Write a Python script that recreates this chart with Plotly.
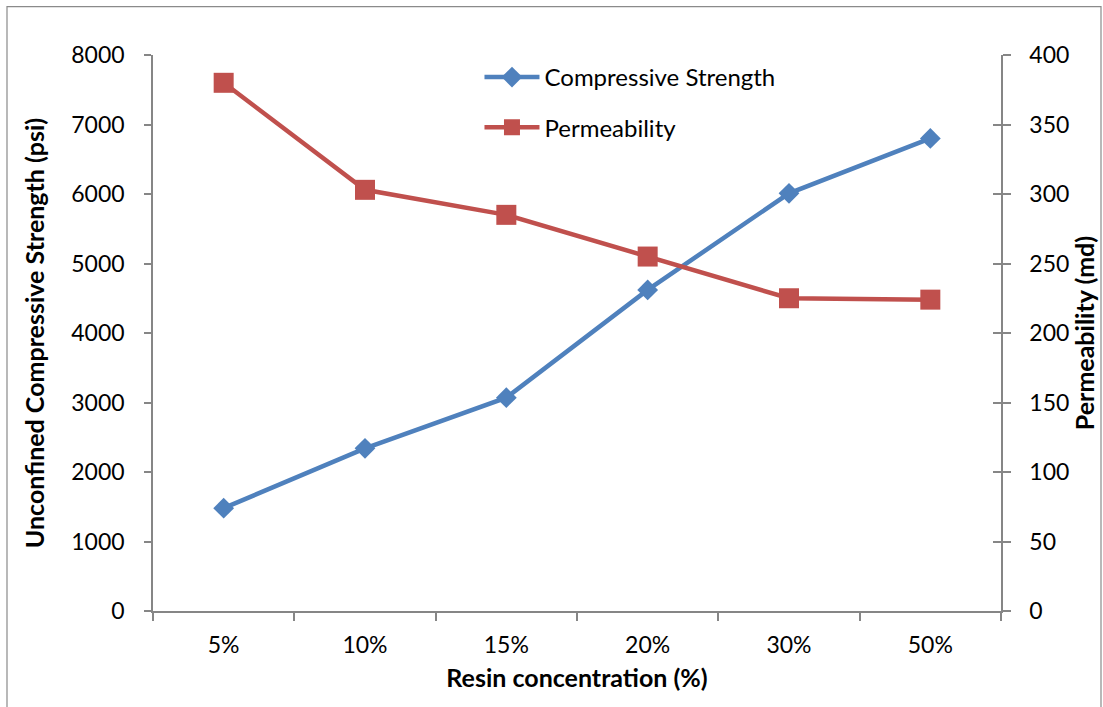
import plotly.graph_objects as go

categories = ["5%", "10%", "15%", "20%", "30%", "50%"]
compressive_strength = [1480, 2340, 3070, 4620, 6010, 6800]
permeability = [380, 303, 285, 255, 225, 224]

left_ticks = [0, 1000, 2000, 3000, 4000, 5000, 6000, 7000, 8000]
right_ticks = [0, 50, 100, 150, 200, 250, 300, 350, 400]

BLUE = "#4F81BD"
RED = "#C0504D"
GRAY = "#868686"
FONT = "Lato"

fig = go.Figure()
fig.add_trace(go.Scatter(
    x=categories, y=compressive_strength, name="Compressive Strength",
    mode="lines+markers", line=dict(color=BLUE, width=4.5),
    marker=dict(symbol="diamond", size=16, color=BLUE),
    legendgroup="a", yaxis="y"))
fig.add_trace(go.Scatter(
    x=categories, y=permeability, name="Permeability",
    mode="lines+markers", line=dict(color=RED, width=4.5),
    marker=dict(symbol="square", size=20, color=RED),
    legendgroup="b", yaxis="y2"))

fig.update_layout(
    width=1103, height=707,
    margin=dict(l=153, r=102, t=55, b=96, autoexpand=False),
    paper_bgcolor="white", plot_bgcolor="white",
    font=dict(family=FONT, size=23, color="black"),
    showlegend=True,
    legend=dict(x=0.385, y=1.0, xanchor="left", yanchor="top",
                bgcolor="rgba(0,0,0,0)", font=dict(size=24),
                traceorder="grouped", tracegroupgap=16, itemwidth=55),
    xaxis=dict(type="category", showgrid=False, showline=True, linecolor=GRAY,
               linewidth=1.5, ticks="outside", ticklen=8, tickcolor=GRAY,
               tickwidth=1.5, tickson="boundaries", ticklabelstandoff=13,
               title=dict(text="<b>Resin concentration (%)</b>", standoff=12,
                          font=dict(size=25)),
               range=[-0.5, 5.5], zeroline=False),
    yaxis=dict(range=[0, 8000], tickvals=left_ticks, showgrid=False,
               showline=True, linecolor=GRAY, linewidth=1.5, ticks="outside",
               ticklen=7, tickcolor=GRAY, tickwidth=1.5, zeroline=False,
               ticklabelstandoff=15,
               title=dict(text="<b>Unconfined Compressive Strength (psi)</b>",
                          standoff=20, font=dict(size=25))),
    yaxis2=dict(range=[0, 400], tickvals=right_ticks, overlaying="y",
                side="right", showgrid=False, showline=True, linecolor=GRAY,
                linewidth=1.5, ticks="outside", ticklen=8, tickcolor=GRAY,
                tickwidth=1.5, zeroline=False, ticklabelstandoff=14,
                title=dict(text="<b>Permeability (md)</b>", standoff=1,
                           font=dict(size=25))),
    yaxis3=dict(range=[0, 400], tickvals=right_ticks, overlaying="y",
                side="right", showgrid=False, showline=False, ticks="inside",
                ticklen=8, tickcolor=GRAY, tickwidth=1.5,
                showticklabels=False, zeroline=False),
    shapes=[dict(type="rect", xref="paper", yref="paper",
                 x0=(7 - 153) / 848, x1=(1101 - 153) / 848,
                 y0=(610.7 - 730) / 555.4, y1=(610.7 - 7) / 555.4,
                 line=dict(color="#8A8A8A", width=1.2), layer="below")],
)

# invisible trace to activate yaxis3 (inner half of crossing ticks)
fig.add_trace(go.Scatter(x=[categories[0]], y=[0], yaxis="y3", mode="markers",
                         marker=dict(opacity=0), showlegend=False,
                         hoverinfo="skip"))

fig.write_html("out.html")
